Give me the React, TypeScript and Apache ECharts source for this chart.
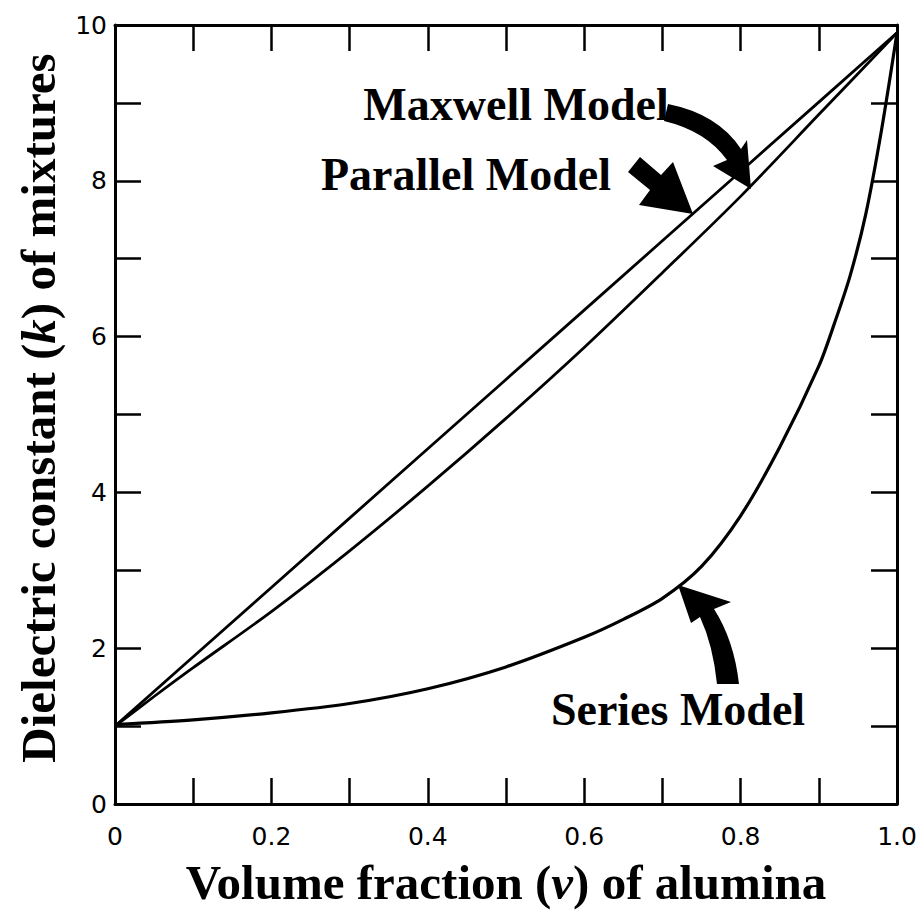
import React, { useEffect, useRef } from "react";
import * as echarts from "echarts";

// Volume fraction of alumina (x) and dielectric constant (k)
const parallelV = [0, 0.1, 0.2, 0.3, 0.4, 0.5, 0.6, 0.7, 0.8, 0.9, 1.0];
const parallelK = [1.0, 1.89, 2.78, 3.67, 4.56, 5.45, 6.34, 7.23, 8.12, 9.01, 9.9];

const maxwellV = [0, 0.05, 0.1, 0.2, 0.3, 0.4, 0.5, 0.6, 0.7, 0.8, 0.9, 1.0];
const maxwellK = [1.0, 1.38, 1.75, 2.47, 3.25, 4.08, 4.95, 5.86, 6.82, 7.8, 8.85, 9.9];

const seriesV = [0, 0.1, 0.2, 0.3, 0.4, 0.5, 0.6, 0.65, 0.7, 0.75, 0.8, 0.85, 0.9, 0.92, 0.94, 0.96, 0.98, 1.0];
const seriesK = [1.02, 1.08, 1.17, 1.29, 1.48, 1.76, 2.14, 2.37, 2.64, 3.05, 3.7, 4.58, 5.62, 6.17, 6.78, 7.57, 8.64, 9.9];

const xTickLabels = ["0", "0.2", "0.4", "0.6", "0.8", "1.0"];
const yTickLabels = ["0", "2", "4", "6", "8", "10"];

const curveLabels = ["Maxwell Model", "Parallel Model", "Series Model"];

const pairs = (xs: number[], ys: number[]) => xs.map((x, i) => [x, ys[i]]);

const ARROW_MAXWELL =
  "M 668 104 Q 718 114 741 149 L 747 140 L 751 189 L 713 166 L 727 160 Q 706 131 664 121 Z";
const ARROW_PARALLEL =
  "M 640 157 L 661 175 L 673 162 L 693 214 L 639 205 L 650 190 L 628 172 Z";
const ARROW_SERIES =
  "M 717 684 Q 713 645 700 617 L 691 623 L 678 585 L 731 602 L 714 609 Q 734 640 739 684 Z";

let registered = false;
function registerShapes() {
  if (registered) return;
  registered = true;
  echarts.graphic.registerShape("arrowMaxwell", echarts.graphic.extendPath(ARROW_MAXWELL as any, {}) as any);
  echarts.graphic.registerShape("arrowParallel", echarts.graphic.extendPath(ARROW_PARALLEL as any, {}) as any);
  echarts.graphic.registerShape("arrowSeries", echarts.graphic.extendPath(ARROW_SERIES as any, {}) as any);
}

export default function App() {
  const ref = useRef<HTMLDivElement>(null);
  useEffect(() => {
    document.body.style.margin = "0";
    registerShapes();
    const chart = echarts.init(ref.current!, null, { renderer: "svg" });
    const axisLineStyle = { onZero: false, lineStyle: { color: "#000", width: 3 } };
    const tickStyle = { show: true, inside: true, length: 26, lineStyle: { color: "#000", width: 2.5 } };
    const xFmt = (v: number) => {
      const t = Math.round(v * 10);
      return t % 2 === 0 ? xTickLabels[t / 2] : "";
    };
    const yFmt = (v: number) => {
      const t = Math.round(v);
      return t % 2 === 0 ? yTickLabels[t / 2] : "";
    };
    const tickFont = { fontFamily: "DejaVu Sans", fontSize: 25, color: "#000" };
    const titleFont = { fontFamily: "Liberation Serif", fontWeight: "bold", fontSize: 49, fill: "#000" };
    const labelFont = "bold 46px 'Liberation Serif'";
    const option: any = {
      animation: false,
      backgroundColor: "#fff",
      grid: { left: 115, right: 23, top: 25, bottom: 115 },
      xAxis: [
        {
          type: "value", min: 0, max: 1, interval: 0.1, position: "bottom",
          axisLine: axisLineStyle, axisTick: tickStyle, splitLine: { show: false },
          axisLabel: { show: true, ...tickFont, margin: 20, formatter: xFmt, showMinLabel: true, showMaxLabel: true },
        },
        {
          type: "value", min: 0, max: 1, interval: 0.1, position: "top",
          axisLine: axisLineStyle, axisTick: tickStyle, splitLine: { show: false },
          axisLabel: { show: false },
        },
      ],
      yAxis: [
        {
          type: "value", min: 0, max: 10, interval: 1, position: "left",
          axisLine: axisLineStyle, axisTick: tickStyle, splitLine: { show: false },
          axisLabel: { show: true, ...tickFont, margin: 8, formatter: yFmt },
        },
        {
          type: "value", min: 0, max: 10, interval: 1, position: "right",
          axisLine: axisLineStyle, axisTick: tickStyle, splitLine: { show: false },
          axisLabel: { show: false },
        },
      ],
      series: [
        {
          name: "Parallel Model", type: "line", xAxisIndex: 0, yAxisIndex: 0,
          data: pairs(parallelV, parallelK), showSymbol: false, smooth: false,
          lineStyle: { color: "#000", width: 2.8 },
        },
        {
          name: "Maxwell Model", type: "line", xAxisIndex: 0, yAxisIndex: 0,
          data: pairs(maxwellV, maxwellK), showSymbol: false, smooth: 0.3,
          lineStyle: { color: "#000", width: 2.8 },
        },
        {
          name: "Series Model", type: "line", xAxisIndex: 0, yAxisIndex: 0,
          data: pairs(seriesV, seriesK), showSymbol: false, smooth: 0.3,
          lineStyle: { color: "#000", width: 3.2 },
        },
      ],
      graphic: [
        { type: "arrowMaxwell", x: 0, y: 0, style: { fill: "#000" }, z: 10 },
        { type: "arrowParallel", x: 0, y: 0, style: { fill: "#000" }, z: 10 },
        { type: "arrowSeries", x: 0, y: 0, style: { fill: "#000" }, z: 10 },
        {
          type: "text", x: 516, y: 104, z: 10,
          style: { text: curveLabels[0], font: labelFont, fill: "#000", textAlign: "center", textVerticalAlign: "middle" },
        },
        {
          type: "text", x: 466, y: 174, z: 10,
          style: { text: curveLabels[1], font: labelFont, fill: "#000", textAlign: "center", textVerticalAlign: "middle" },
        },
        {
          type: "text", x: 678, y: 709, z: 10,
          style: { text: curveLabels[2], font: labelFont, fill: "#000", textAlign: "center", textVerticalAlign: "middle" },
        },
        {
          type: "text", x: 506, y: 882, z: 10,
          style: {
            text: "{a|Volume fraction (}{i|v}{a|) of alumina}",
            textAlign: "center", textVerticalAlign: "middle",
            rich: {
              a: { ...titleFont },
              i: { ...titleFont, fontStyle: "italic" },
            },
          },
        },
        {
          type: "text", x: 38, y: 408, rotation: Math.PI / 2, z: 10,
          style: {
            text: "{a|Dielectric constant (}{i|k}{a|) of mixtures}",
            textAlign: "center", textVerticalAlign: "middle",
            rich: {
              a: { ...titleFont },
              i: { ...titleFont, fontStyle: "italic" },
            },
          },
        },
      ],
    };
    chart.setOption(option);
    return () => chart.dispose();
  }, []);
  return <div ref={ref} style={{ width: 920, height: 919 }} />;
}
